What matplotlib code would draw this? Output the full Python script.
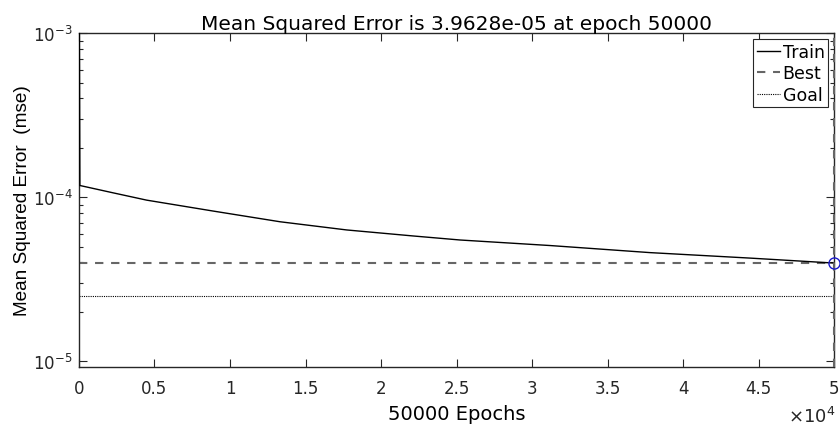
import matplotlib
matplotlib.use("Agg")
import matplotlib.pyplot as plt
from matplotlib.ticker import FuncFormatter
import numpy as np

plt.rcParams['font.family'] = ['DejaVu Sans']
plt.rcParams['mathtext.fontset'] = 'dejavusans'

# Data
epochs = [0, 60, 2272, 4483, 8874, 13311, 17728, 22119, 25232, 31192, 37815, 44437, 50000]
train_mse = [5e-3, 1.178e-4, 1.062e-4, 9.59e-5, 8.23e-5, 7.08e-5, 6.31e-5, 5.80e-5, 5.48e-5,
             5.07e-5, 4.59e-5, 4.25e-5, 3.9628e-5]
best_epoch = 50000
best_mse = 3.9628e-5
goal_mse = 2.5e-5
x_limits = [0, 50000]
y_limits = [10 ** -5.0335, 1e-3]
x_ticks = [0, 5000, 10000, 15000, 20000, 25000, 30000, 35000, 40000, 45000, 50000]
x_scale = 1e4

ink = '#262626'
gray = '#666666'

fig = plt.figure(figsize=(8.4, 4.27), dpi=100)
ax = fig.add_axes([0.094, 0.139, 0.899, 0.781])

ax.plot(epochs, train_mse, color='black', lw=1.0, label='Train', zorder=3)
ax.plot(x_limits, [best_mse, best_mse], color=gray, lw=1.5, ls=(0, (4, 3.7)), label='Best')
ax.plot(x_limits, [goal_mse, goal_mse], color='black', lw=0.8, ls=(0, (1, 1)), label='Goal')
ax.plot([best_epoch, best_epoch], y_limits, color=gray, lw=1.5, ls=(0, (4, 3.7)),
        clip_on=False, zorder=3)
ax.plot([best_epoch], [best_mse], marker='o', ms=8, mfc='none', mec='#1a1acc', mew=1.0,
        clip_on=False, zorder=5)

ax.set_yscale('log')
ax.set_xlim(x_limits)
ax.set_ylim(y_limits)
ax.set_xticks(x_ticks)
ax.xaxis.set_major_formatter(FuncFormatter(lambda v, p: '%g' % (v / x_scale)))

ax.tick_params(which='both', direction='in', top=True, right=True, colors=ink,
               labelcolor=ink)
ax.tick_params(which='major', length=5.5, width=0.8)
ax.tick_params(which='minor', length=3, width=0.8)
ax.tick_params(axis='x', pad=9, labelsize=12)
ax.tick_params(axis='y', pad=4.5, labelsize=12)
for s in ax.spines.values():
    s.set_linewidth(1.0)
    s.set_color(ink)

fig.text(835 / 840, 4 / 427, r'$\times10^{4}$', ha='right', va='baseline',
         fontsize=13, color=ink)

ax.set_title('Mean Squared Error is 3.9628e-05 at epoch 50000', fontsize=14.5, pad=2,
             color='black')
ax.set_xlabel('50000 Epochs', fontsize=14, labelpad=5, color='black')
ax.set_ylabel('Mean Squared Error  (mse)', fontsize=13.7, color='black',
              family=['Liberation Sans', 'DejaVu Sans'])
ax.yaxis.set_label_coords(-0.064, 0.5)

leg = ax.legend(loc='upper right', fontsize=12.5, frameon=True, fancybox=False,
                edgecolor=ink, handlelength=1.35, handletextpad=0.15,
                borderpad=0.2, labelspacing=0.2, borderaxespad=0.35, framealpha=1)
leg.get_frame().set_linewidth(0.8)

fig.savefig('out.png', dpi=100)
